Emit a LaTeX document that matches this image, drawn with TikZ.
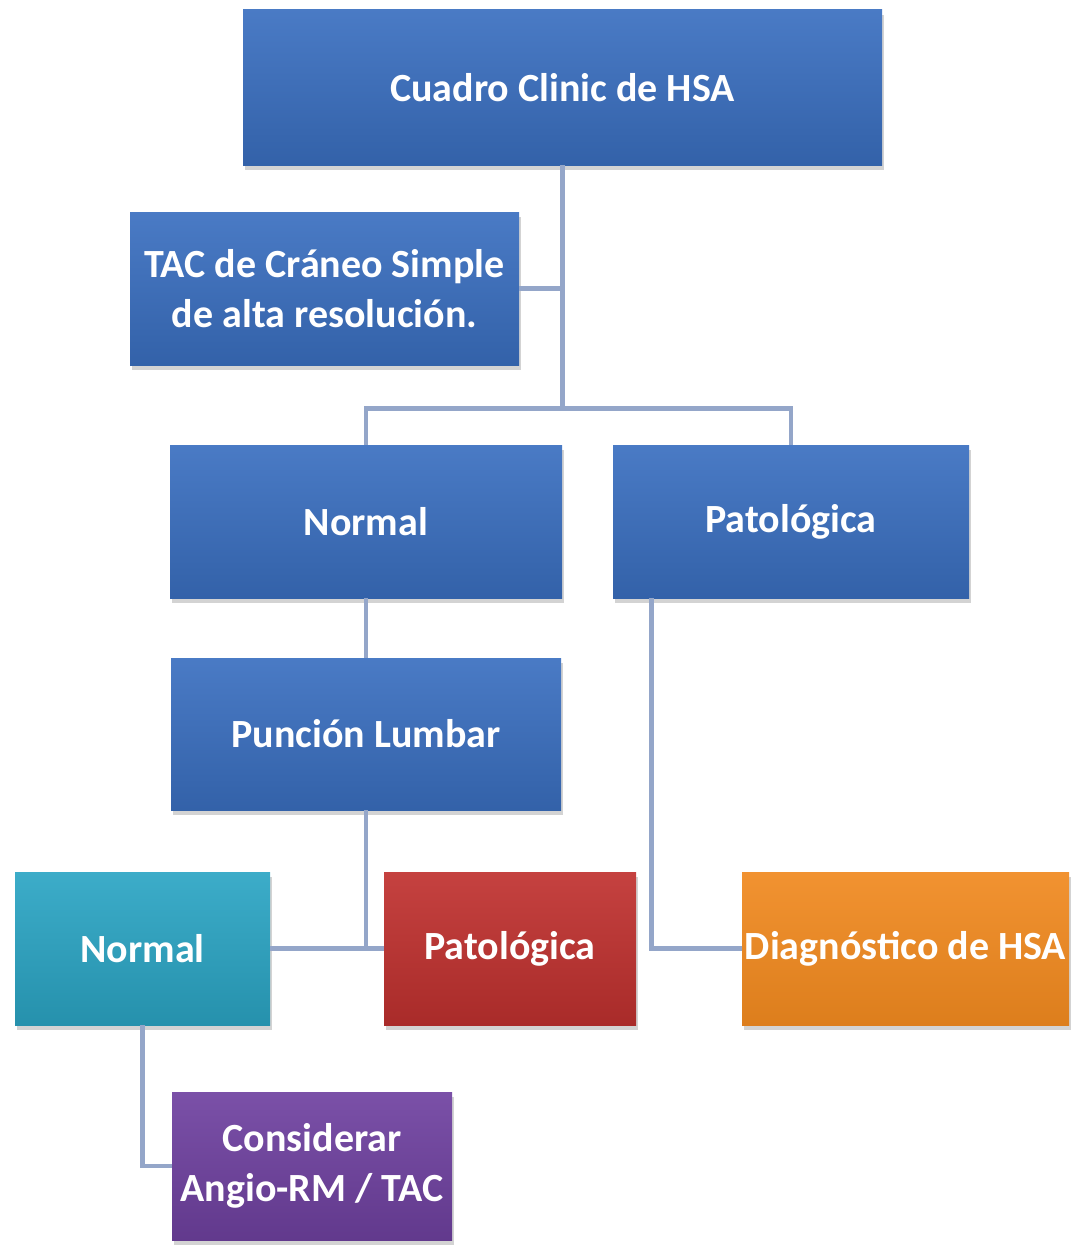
\documentclass[tikz,border=0pt]{standalone}
\usepackage{fontspec}
\setmainfont{Carlito}
\usepackage{xcolor}
\usetikzlibrary{positioning,shadows,calc}

\definecolor{boxblue}{HTML}{3A6FC0}
\definecolor{boxcyan}{HTML}{2BA5C4}
\definecolor{boxred}{HTML}{C0312F}
\definecolor{boxorange}{HTML}{F0891F}
\definecolor{boxpurple}{HTML}{6F41A0}
\definecolor{linkgray}{HTML}{94A6C9}

\begin{document}
\begin{tikzpicture}[
  x=0.5pt, y=-0.5pt,
  font=\fontsize{20}{25}\selectfont\bfseries,
  card/.style={align=center, text=white, inner sep=0pt,
    drop shadow={shadow xshift=1pt, shadow yshift=-2.5pt, opacity=0.35}},
  bluecard/.style={card, top color=boxblue!92!white, bottom color=boxblue!88!black},
  link/.style={draw=linkgray, line width=2.2pt}
]
\useasboundingbox (0,0) rectangle (1079,1247);

\node[bluecard, minimum width=319.5pt, minimum height=77.5pt] (top) at (562.5,87.5) {Cuadro Clinic de HSA};
\node[bluecard, minimum width=194.5pt, minimum height=76.5pt] (tac) at (324.5,288.5) {TAC de Cráneo Simple\\de alta resolución.};
\node[bluecard, minimum width=196pt, minimum height=76.5pt] (norm) at (366,521.5) {Normal};
\node[bluecard, minimum width=178pt, minimum height=76.5pt] (pat) at (791,521.5) {Patológica};
\node[bluecard, minimum width=195pt, minimum height=76pt] (pl) at (366,734) {Punción Lumbar};
\node[card, top color=boxcyan!92!white, bottom color=boxcyan!88!black,
  minimum width=127.5pt, minimum height=76.5pt] (norm2) at (142.5,948.5) {Normal};
\node[card, top color=boxred!92!white, bottom color=boxred!88!black,
  minimum width=126pt, minimum height=76.5pt] (pat2) at (510,948.5) {Patológica};
\node[card, top color=boxorange!92!white, bottom color=boxorange!92!black,
  minimum width=163.5pt, minimum height=76.5pt] (diag) at (905.5,948.5) {Diagnóstico de HSA};
\node[card, top color=boxpurple!92!white, bottom color=boxpurple!88!black,
  minimum width=140pt, minimum height=74pt] (cons) at (312,1166) {Considerar\\Angio-RM / TAC};

% connectors
\coordinate (split) at ($(top.south)+(0,243)$);
\coordinate (patdrop) at ([xshift=19.5pt]pat.south west);
\draw[link] (top.south) -- (split);
\draw[link] (tac.east) -- (tac.east -| split);
\draw[link] (split) -| (norm.north);
\draw[link] (split) -| (pat.north);
\draw[link] (norm.south) -- (pl.north);
\draw[link] (norm2.east) -- (pat2.west);
\draw[link] (pl.south) -- (pl.south |- pat2.west);
\draw[link] (patdrop) |- (diag.west);
\draw[link] (norm2.south) |- (cons.west);
\end{tikzpicture}
\end{document}
